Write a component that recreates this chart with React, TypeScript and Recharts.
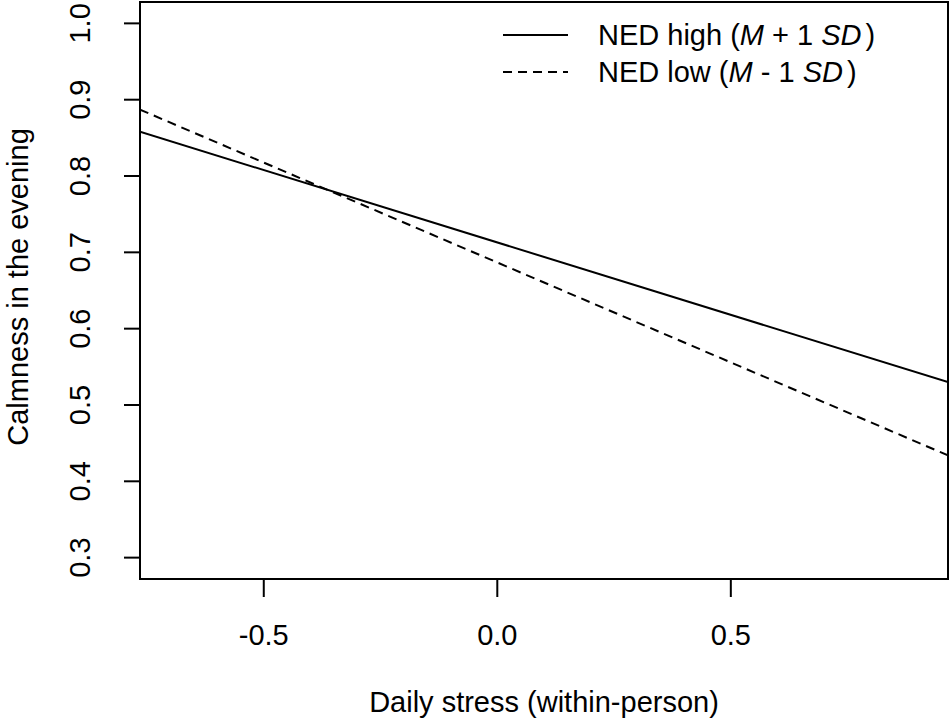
import React from 'react';
import { LineChart, Line, XAxis, YAxis, ReferenceArea } from 'recharts';

const xTicks = [-0.5, 0.0, 0.5];
const yTicks = [0.3, 0.4, 0.5, 0.6, 0.7, 0.8, 0.9, 1.0];
const stressX = [-0.765, 0.965];
const nedHigh = [0.858, 0.53];
const nedLow = [0.887, 0.434];
const seriesNames = ['NED high', 'NED low'];

const data = stressX.map((x, i) => ({ x, high: nedHigh[i], low: nedLow[i] }));

const FONT = 'Liberation Sans, Arial, sans-serif';

const XTick = (props: any) => {
  const { x, payload } = props;
  return (
    <text x={x} y={645} textAnchor="middle" fontFamily={FONT} fontSize={29} fill="#000">
      {payload.value.toFixed(1)}
    </text>
  );
};

const YTick = (props: any) => {
  const { y, payload } = props;
  return (
    <text
      transform={`translate(90, ${y}) rotate(-90)`}
      textAnchor="middle"
      fontFamily={FONT}
      fontSize={29}
      fill="#000"
    >
      {payload.value.toFixed(1)}
    </text>
  );
};

const Legend = () => (
  <g fontFamily={FONT} fontSize={29} fill="#000">
    <line x1={503} x2={568} y1={35} y2={35} stroke="#000" strokeWidth={2} />
    <line x1={503} x2={568} y1={72} y2={72} stroke="#000" strokeWidth={2} strokeDasharray="9 6" />
    <text x={598} y={45}>
      {seriesNames[0]} (<tspan fontStyle="italic">M</tspan> + 1 <tspan fontStyle="italic">SD</tspan><tspan dx={4}>)</tspan>
    </text>
    <text x={598} y={82}>
      {seriesNames[1]} (<tspan fontStyle="italic">M</tspan> - 1 <tspan fontStyle="italic">SD</tspan><tspan dx={4}>)</tspan>
    </text>
  </g>
);

export default function App() {
  return (
    <div style={{ position: 'absolute', left: 0, top: 0, width: 950, height: 726, background: '#fff' }}>
      <LineChart width={950} height={726} data={data} margin={{ top: 2, right: 2, left: 0, bottom: 0 }}>
        <XAxis
          dataKey="x"
          type="number"
          domain={[-0.765, 0.965]}
          ticks={xTicks}
          axisLine={false}
          tickLine={{ stroke: '#000', strokeWidth: 2 }}
          tickSize={18}
          tick={<XTick />}
          height={147}
          allowDataOverflow
        />
        <YAxis
          type="number"
          domain={[0.272, 1.028]}
          ticks={yTicks}
          axisLine={false}
          tickLine={{ stroke: '#000', strokeWidth: 2 }}
          tickSize={16}
          tick={<YTick />}
          width={140}
          allowDataOverflow
        />
        <ReferenceArea x1={-0.765} x2={0.965} y1={0.272} y2={1.028} fill="none" stroke="#000" strokeWidth={2} fillOpacity={0} />
        <Line dataKey="high" stroke="#000" strokeWidth={2} dot={false} isAnimationActive={false} />
        <Line dataKey="low" stroke="#000" strokeWidth={2} strokeDasharray="9 6" dot={false} isAnimationActive={false} />
        <text x={544} y={712} textAnchor="middle" fontFamily={FONT} fontSize={29} fill="#000">
          Daily stress (within-person)
        </text>
        <text transform="translate(28, 287) rotate(-90)" textAnchor="middle" fontFamily={FONT} fontSize={29} fill="#000">
          Calmness in the evening
        </text>
        <Legend />
      </LineChart>
    </div>
  );
}
